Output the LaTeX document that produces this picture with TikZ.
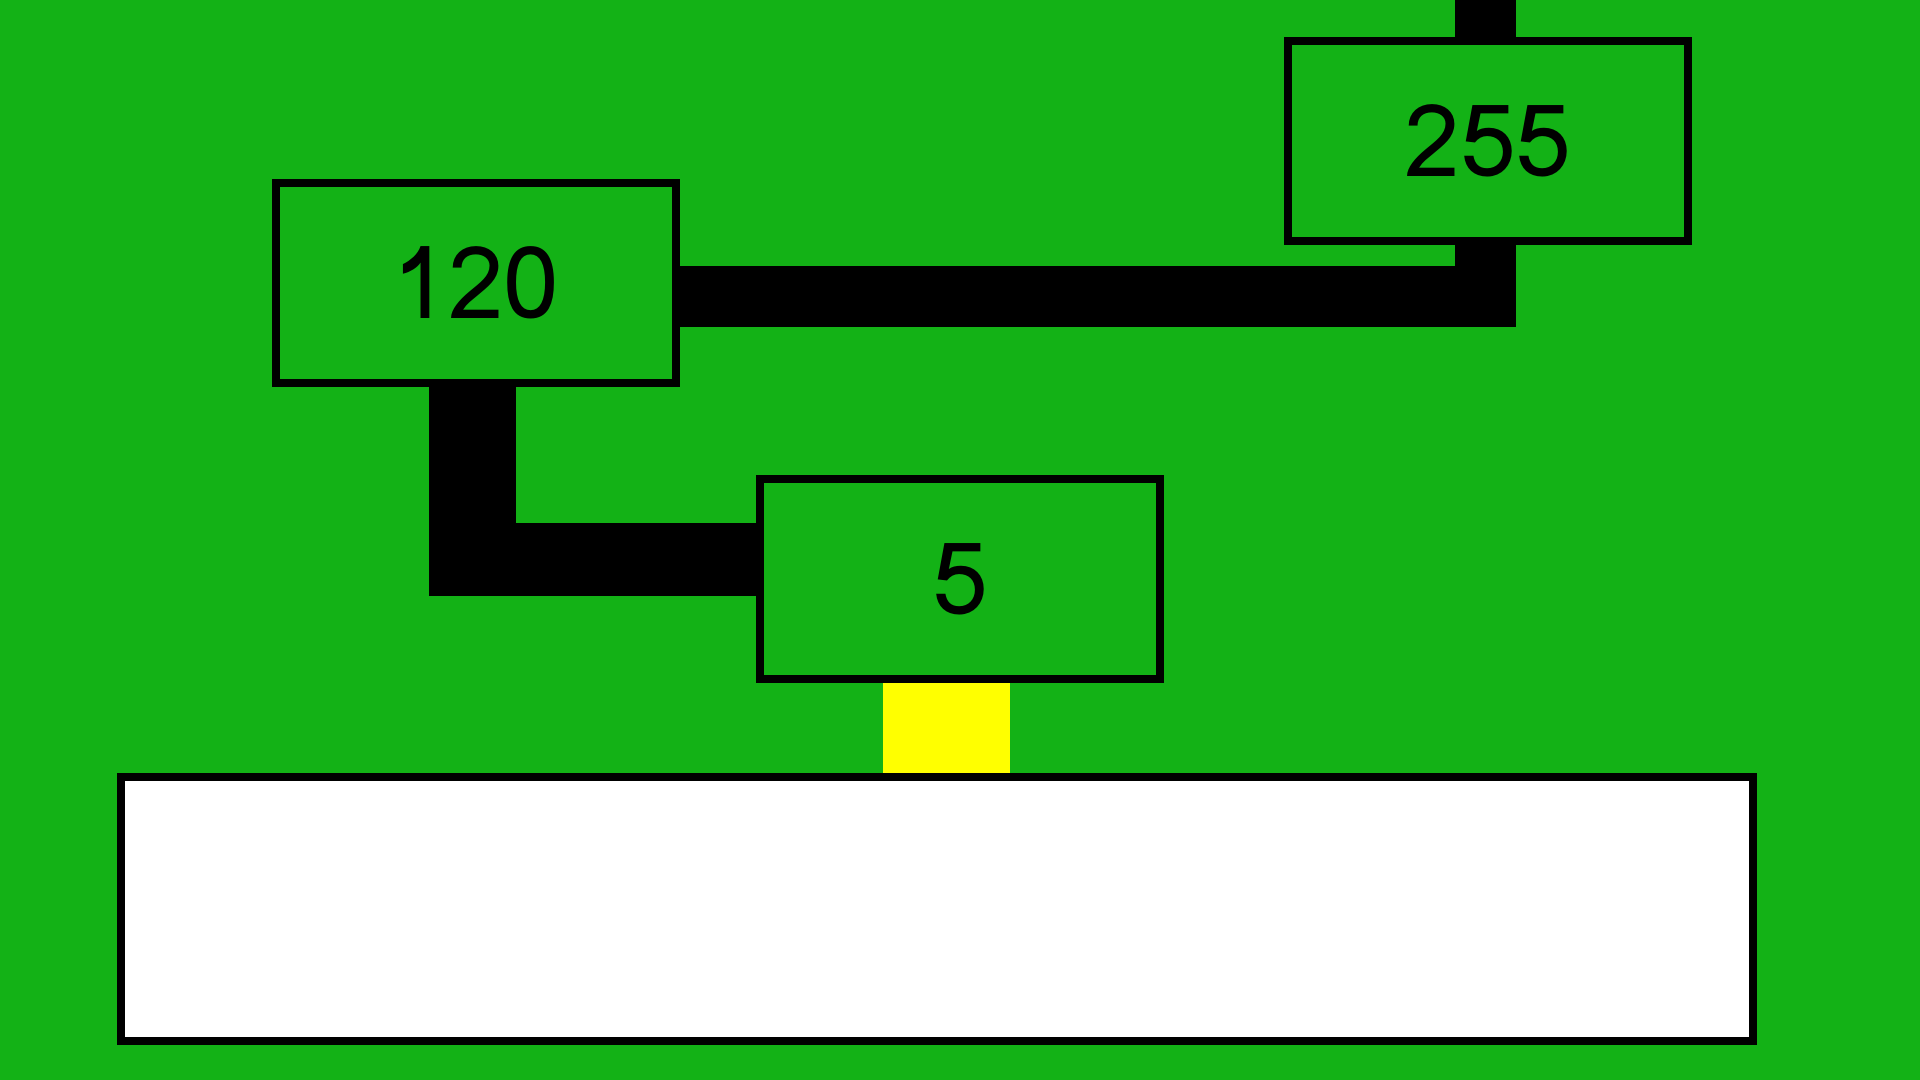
\documentclass[tikz,border=0pt]{standalone}
\usepackage{fontspec}
\newfontfamily\numfont{Loma}
\definecolor{bggreen}{RGB}{19,178,22}
\definecolor{stemyellow}{RGB}{255,255,0}

\begin{document}
\begin{tikzpicture}[x=0.01cm,y=-0.01cm,
    numbox/.style={draw=black,fill=bggreen,line width=0.08cm,minimum width=4cm,minimum height=2cm,inner sep=0pt,font=\numfont\fontsize{28.5}{30}\selectfont},
    wire/.style={draw=black,line width=0.6cm,line join=miter}]
  \fill[bggreen] (0,0) rectangle (1920,1080);
  \useasboundingbox (0,0) rectangle (1920,1080);
  \node[numbox] (n120) at (476,283) {120};
  \node[numbox] (n255) at (1488,141) {255};
  \node[numbox] (n5) at (960,579) {5};
  \node[draw=black,fill=white,line width=0.08cm,minimum width=16.32cm,minimum height=2.64cm,inner sep=0pt] (panel) at (937,909) {};
  \coordinate (bendA) at (1485.5,296.5);
  \coordinate (feed) at (1485.5,-5);
  \coordinate (bendB) at (472.5,559.5);
  \coordinate (stem) at (946.5,0);
  % wide links
  \draw[wire] (n120.east |- bendA) -- (bendA) -- (n255.south -| bendA);
  \draw[wire] (feed) -- (n255.north -| feed);
  \draw[wire,line width=0.87cm] (n120.south -| bendB) -- (bendB) -- ++(0,36.5);
  \draw[wire,line width=0.73cm] (n5.west |- bendB) -- (bendB) -- ++(-43.5,0);
  % yellow stem
  \draw[stemyellow,line width=1.27cm] (n5.south -| stem) -- (panel.north -| stem);
\end{tikzpicture}
\end{document}
